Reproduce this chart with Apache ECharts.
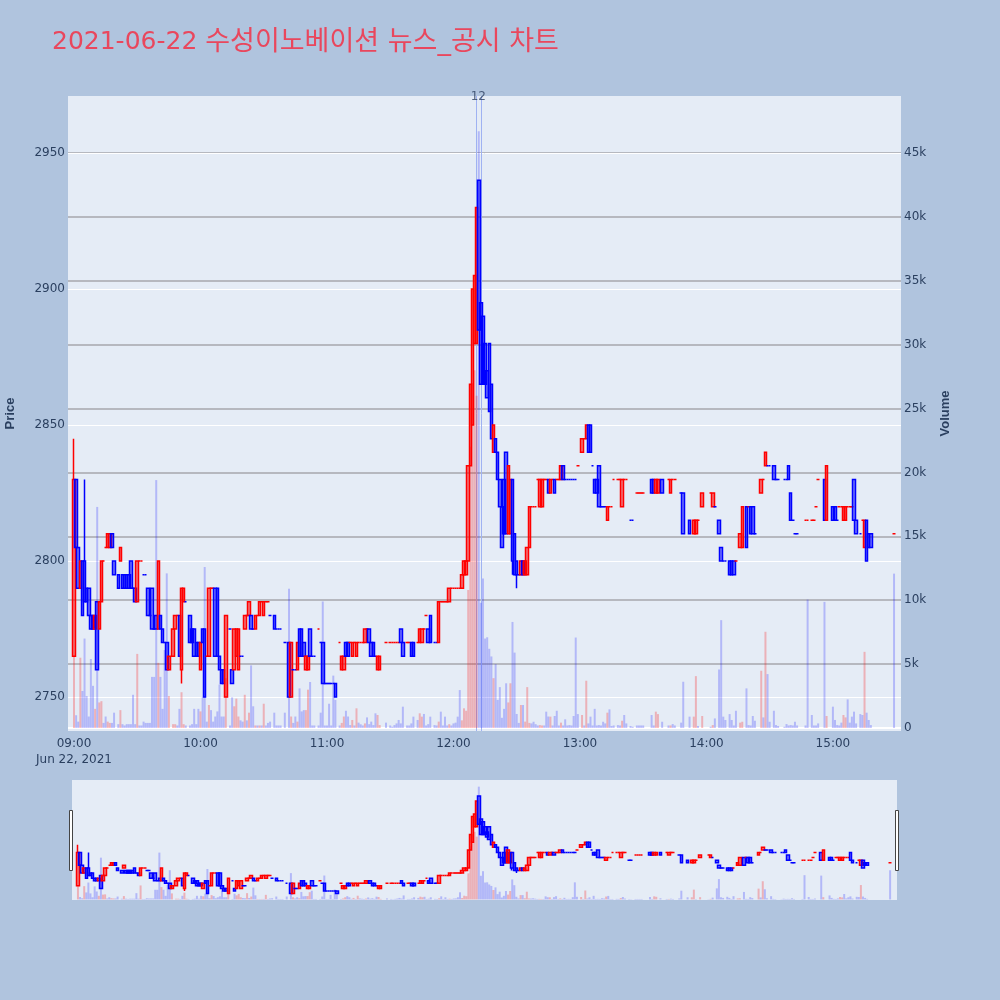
<!DOCTYPE html>
<html><head><meta charset="utf-8">
<script src="https://cdn.jsdelivr.net/npm/echarts@6/dist/echarts.min.js"></script>
<style>html,body{margin:0;padding:0;background:#b0c4de}#chart{width:1000px;height:1000px}</style>
</head><body><div id="chart"></div>
<script>
const titleDate = '2021-06-22';
const titleName = '수성이노베이션 뉴스_공시 차트';
const dateLabel = 'Jun 22, 2021';

const times = [
'09:00','09:01','09:02','09:03','09:04','09:05','09:06','09:07','09:08','09:09',
'09:10','09:11','09:12','09:13','09:14','09:15','09:16','09:17','09:18','09:19',
'09:21','09:22','09:23','09:24','09:25','09:26','09:27','09:28','09:29',
'09:30','09:31','09:32','09:33','09:34','09:35','09:36','09:37','09:38','09:39',
'09:40','09:41','09:42','09:43','09:44','09:45','09:47','09:48','09:49',
'09:50','09:51','09:52','09:53','09:55','09:56','09:57','09:58','09:59',
'10:00','10:01','10:02','10:03','10:04','10:05','10:06','10:07','10:08','10:09',
'10:10','10:11','10:12','10:14','10:15','10:16','10:17','10:18','10:19',
'10:20','10:21','10:22','10:23','10:24','10:25','10:26','10:27','10:28','10:29',
'10:30','10:31','10:32','10:33','10:35','10:36','10:37','10:38',
'10:40','10:42','10:43','10:44','10:45','10:46','10:47','10:48','10:49',
'10:50','10:51','10:52','10:53','10:54','10:56','10:57','10:58','10:59',
'11:00','11:01','11:02','11:03','11:04','11:06','11:07','11:08','11:09',
'11:10','11:11','11:12','11:13','11:14','11:15','11:16','11:17','11:18','11:19',
'11:20','11:21','11:22','11:23','11:24','11:25','11:28',
'11:30','11:31','11:32','11:33','11:34','11:35','11:36','11:38','11:39',
'11:40','11:41','11:43','11:44','11:45','11:46','11:47','11:48','11:49',
'11:51','11:52','11:53','11:54','11:55','11:56','11:57','11:58','11:59',
'12:00','12:01','12:02','12:03','12:04','12:05','12:06','12:07','12:08','12:09',
'12:10','12:11','12:12','12:13','12:14','12:15','12:16','12:17','12:18','12:19',
'12:20','12:21','12:22','12:23','12:24','12:25','12:26','12:27','12:28','12:29',
'12:30','12:31','12:32','12:33','12:34','12:35','12:36','12:37','12:38','12:39',
'12:40','12:41','12:42','12:43','12:44','12:45','12:46','12:47','12:48','12:49',
'12:50','12:51','12:52','12:53','12:54','12:55','12:56','12:57','12:58','12:59',
'13:01','13:02','13:03','13:04','13:05','13:06','13:07','13:08','13:09',
'13:10','13:11','13:12','13:13','13:14','13:15','13:16','13:18','13:19',
'13:20','13:21','13:22','13:24','13:25','13:27','13:28','13:29',
'13:30','13:34','13:35','13:36','13:37','13:39',
'13:42','13:43','13:44','13:45','13:48','13:49',
'13:52','13:54','13:55','13:56','13:58',
'14:02','14:03','14:04','14:06','14:07','14:08','14:09',
'14:11','14:12','14:13','14:14','14:16','14:17','14:19',
'14:20','14:21','14:22','14:23','14:26','14:27','14:28','14:29',
'14:30','14:32','14:33','14:34','14:37','14:38','14:39',
'14:40','14:41','14:42','14:43','14:47','14:48',
'14:50','14:51','14:52','14:53','14:56','14:57',
'15:00','15:01','15:02','15:03','15:04','15:05','15:06','15:07','15:08','15:09',
'15:10','15:11','15:13','15:14','15:15','15:16','15:17','15:18','15:29'
];

const opens = [
2765,2830,2805,2790,2800,2800,2790,2790,2780,2780,
2775,2785,2775,2785,2800,2805,2805,2805,2810,2800,
2795,2800,2795,2795,2795,2795,2800,2790,2790,
2785,2800,2800,2795,2795,2790,2780,2790,2775,2780,
2775,2780,2775,2770,2770,2760,2765,2775,2780,
2780,2760,2785,2785,2780,2775,2775,2770,2770,
2760,2775,2775,2765,2765,2790,2790,2790,2790,2765,
2760,2760,2750,2775,2760,2760,2765,2760,2765,
2765,2775,2780,2780,2780,2775,2775,2780,2780,2785,
2780,2785,2785,2780,2780,2775,2775,2775,
2770,2770,2750,2760,2760,2760,2775,2775,2770,
2760,2760,2775,2765,2765,2775,2770,2770,2755,
2755,2755,2755,2755,2755,2770,2760,2760,2770,
2770,2770,2765,2770,2765,2770,2770,2770,2770,2775,
2775,2770,2770,2765,2760,2760,2770,
2770,2770,2770,2770,2770,2775,2770,2770,2770,
2770,2770,2770,2770,2770,2775,2780,2775,2780,
2770,2770,2770,2785,2785,2785,2785,2785,2790,
2790,2790,2790,2790,2790,2795,2795,2800,2835,2850,
2880,2880,2940,2895,2890,2880,2870,2880,2865,2840,
2845,2840,2830,2820,2830,2840,2810,2810,2830,2810,
2800,2795,2795,2800,2795,2795,2805,2820,2820,2820,
2830,2820,2820,2830,2830,2830,2825,2830,2830,2830,
2830,2830,2835,2830,2830,2830,2830,2830,2830,2835,
2840,2845,2845,2850,2850,2835,2830,2830,2835,
2820,2820,2820,2815,2820,2820,2830,2830,2830,
2820,2830,2830,2815,2815,2825,2825,2825,
2825,2830,2830,2825,2825,2830,
2830,2825,2830,2830,2825,2825,
2815,2810,2810,2815,2820,
2825,2820,2820,2815,2805,2800,2800,
2800,2800,2800,2800,2805,2805,2820,
2820,2820,2820,2810,2825,2830,2835,2835,
2835,2835,2830,2830,2830,2830,2835,
2825,2815,2810,2810,2815,2815,
2815,2815,2820,2830,2830,2815,
2820,2820,2815,2820,2820,2815,2815,2820,2820,2820,
2830,2815,2810,2815,2805,2815,2810,2810,2810
];

const closes = [
2830,2805,2790,2800,2780,2785,2785,2780,2775,2775,
2780,2760,2785,2800,2800,2805,2810,2810,2805,2795,
2790,2805,2790,2790,2790,2790,2790,2790,2785,
2800,2800,2800,2795,2795,2780,2780,2775,2775,2775,
2800,2775,2770,2770,2760,2765,2775,2780,2780,
2765,2790,2790,2785,2770,2770,2765,2765,2765,
2770,2770,2750,2765,2790,2790,2790,2765,2765,2760,
2755,2755,2780,2775,2755,2775,2775,2775,2765,
2765,2780,2780,2785,2775,2775,2780,2780,2785,2785,
2785,2785,2785,2780,2775,2775,2775,2775,
2770,2750,2770,2760,2760,2770,2765,2765,2765,
2765,2765,2765,2765,2765,2775,2770,2755,2755,
2755,2755,2755,2755,2750,2770,2765,2765,2765,
2765,2770,2770,2770,2770,2770,2770,2770,2775,2775,
2770,2765,2765,2765,2765,2765,2770,
2770,2770,2770,2770,2770,2770,2765,2770,2770,
2765,2765,2770,2775,2775,2775,2780,2770,2770,
2770,2770,2785,2785,2785,2785,2785,2790,2790,
2790,2790,2790,2790,2795,2800,2800,2835,2865,2900,
2905,2930,2885,2865,2865,2865,2860,2855,2845,2850,
2840,2830,2820,2805,2810,2810,2835,2830,2800,2795,
2795,2795,2800,2795,2800,2805,2820,2820,2820,2820,
2830,2830,2830,2830,2830,2825,2830,2830,2825,2830,
2830,2835,2830,2830,2830,2830,2830,2830,2830,2835,
2845,2845,2850,2840,2840,2835,2825,2825,2820,
2820,2820,2820,2820,2820,2820,2830,2830,2830,
2830,2830,2830,2815,2815,2825,2825,2825,
2825,2825,2825,2830,2830,2825,
2830,2830,2830,2830,2825,2810,
2810,2815,2815,2815,2825,
2825,2825,2820,2810,2800,2800,2800,
2795,2795,2795,2800,2810,2820,2805,
2820,2810,2810,2810,2830,2830,2840,2835,
2835,2830,2830,2830,2830,2830,2830,
2815,2815,2810,2810,2815,2815,
2815,2815,2820,2830,2815,2835,
2815,2815,2815,2820,2820,2820,2820,2820,2820,2820,
2815,2810,2810,2815,2815,2800,2805,2805,2810
];

const lows = [
2765,2805,2790,2790,2780,2785,2785,2780,2775,2775,
2775,2760,2775,2785,2800,2805,2805,2805,2805,2795,
2790,2800,2790,2790,2790,2790,2790,2790,2785,
2785,2800,2800,2795,2795,2780,2780,2775,2775,2775,
2775,2775,2770,2770,2760,2760,2765,2775,2780,
2765,2755,2785,2785,2770,2770,2765,2765,2765,
2760,2770,2750,2765,2765,2790,2790,2765,2765,2760,
2755,2755,2750,2775,2755,2760,2765,2760,2765,
2765,2775,2780,2780,2775,2775,2775,2780,2780,2785,
2780,2785,2785,2780,2775,2775,2775,2775,
2770,2750,2750,2760,2760,2760,2765,2765,2765,
2760,2760,2765,2765,2765,2775,2770,2755,2755,
2755,2755,2755,2755,2750,2770,2760,2760,2765,
2765,2770,2765,2770,2765,2770,2770,2770,2770,2775,
2770,2765,2765,2765,2760,2760,2770,
2770,2770,2770,2770,2770,2770,2765,2770,2770,
2765,2765,2770,2770,2770,2775,2780,2770,2770,
2770,2770,2770,2785,2785,2785,2785,2785,2790,
2790,2790,2790,2790,2790,2795,2795,2800,2835,2850,
2880,2880,2885,2865,2865,2865,2860,2855,2845,2840,
2840,2830,2820,2805,2810,2810,2810,2810,2795,2795,
2790,2795,2795,2795,2795,2795,2805,2820,2820,2820,
2830,2820,2820,2830,2830,2825,2825,2830,2825,2830,
2830,2830,2830,2830,2830,2830,2830,2830,2830,2835,
2840,2845,2845,2840,2840,2835,2825,2825,2820,
2820,2820,2820,2815,2820,2820,2830,2830,2830,
2820,2830,2830,2815,2815,2825,2825,2825,
2825,2825,2825,2825,2825,2825,
2830,2825,2830,2830,2825,2810,
2810,2810,2810,2815,2820,
2825,2820,2820,2810,2800,2800,2800,
2795,2795,2795,2800,2805,2805,2805,
2820,2810,2810,2810,2825,2830,2835,2835,
2835,2830,2830,2830,2830,2830,2830,
2815,2815,2810,2810,2815,2815,
2815,2815,2820,2830,2815,2815,
2815,2815,2815,2820,2820,2815,2815,2820,2820,2820,
2815,2810,2810,2815,2805,2800,2805,2805,2810
];

const highs = [
2845,2830,2805,2800,2800,2830,2790,2790,2780,2780,
2780,2785,2785,2800,2800,2805,2810,2810,2810,2800,
2795,2805,2795,2795,2795,2795,2800,2790,2790,
2800,2800,2800,2795,2795,2790,2780,2790,2775,2780,
2800,2780,2775,2770,2770,2765,2775,2780,2780,
2780,2790,2790,2785,2780,2775,2775,2770,2770,
2770,2775,2775,2765,2790,2790,2790,2790,2790,2765,
2760,2760,2780,2775,2760,2775,2775,2775,2765,
2765,2780,2780,2785,2780,2775,2780,2780,2785,2785,
2785,2785,2785,2780,2780,2775,2775,2775,
2770,2770,2770,2760,2760,2770,2775,2775,2770,
2765,2765,2775,2765,2765,2775,2770,2770,2755,
2755,2755,2755,2755,2755,2770,2765,2765,2770,
2770,2770,2770,2770,2770,2770,2770,2770,2775,2775,
2775,2770,2770,2765,2765,2765,2770,
2770,2770,2770,2770,2770,2775,2770,2770,2770,
2770,2770,2770,2775,2775,2775,2780,2775,2780,
2770,2770,2785,2785,2785,2785,2785,2790,2790,
2790,2790,2790,2790,2795,2800,2800,2835,2865,2900,
2905,2930,2940,2895,2890,2880,2870,2880,2865,2850,
2845,2840,2830,2820,2830,2840,2835,2830,2830,2810,
2800,2795,2800,2800,2800,2805,2820,2820,2820,2820,
2830,2830,2830,2830,2830,2830,2830,2830,2830,2830,
2830,2835,2835,2830,2830,2830,2830,2830,2830,2835,
2845,2845,2850,2850,2850,2835,2830,2830,2835,
2820,2820,2820,2820,2820,2820,2830,2830,2830,
2830,2830,2830,2815,2815,2825,2825,2825,
2825,2830,2830,2830,2830,2830,
2830,2830,2830,2830,2825,2825,
2815,2815,2815,2815,2825,
2825,2825,2820,2815,2805,2800,2800,
2800,2800,2800,2800,2810,2820,2820,
2820,2820,2820,2810,2830,2830,2840,2835,
2835,2835,2830,2830,2830,2830,2835,
2825,2815,2810,2810,2815,2815,
2815,2815,2820,2830,2830,2835,
2820,2820,2815,2820,2820,2820,2820,2820,2820,2820,
2830,2815,2810,2815,2815,2815,2810,2810,2810
];

const volumes = [
5600,1000,500,5500,2900,7000,2500,900,5400,3300,
1500,17300,2000,2100,400,900,500,400,400,1200,
300,1400,300,200,300,300,300,2600,300,
5800,200,200,500,400,400,400,4000,4000,19400,
5100,4000,1500,6100,12100,2500,300,300,200,
1500,2800,300,200,200,300,1500,300,1500,
1300,2400,12600,500,1800,1400,500,900,1300,3400,
900,900,3900,200,2400,1700,2300,900,600,
500,2600,600,1200,4900,1700,200,200,200,200,
1900,200,400,500,1200,200,200,200,
1200,10900,900,400,900,500,3100,1300,1400,
1400,3000,3600,200,200,200,1200,9900,200,
200,1900,200,4100,2200,200,400,900,1350,
900,230,630,200,1540,420,290,200,360,830,
300,500,230,1150,1020,230,420,
200,100,230,360,630,360,1670,200,200,
360,890,630,1150,890,1100,200,300,890,
230,200,500,1280,200,890,200,300,200,
360,420,890,2970,600,1540,1350,10800,22000,27000,
28000,26000,46700,9800,11700,7000,7100,6200,5600,3900,
5000,2200,3200,800,1500,3500,2000,3500,8300,5900,
1100,400,1800,1800,500,3200,400,360,490,300,
200,230,200,200,1280,900,890,200,940,1350,
200,420,200,680,200,230,200,940,7080,1090,
1020,200,3700,360,890,200,1500,200,230,
200,490,360,1200,1460,160,200,230,200,
570,1020,360,160,100,200,200,200,
200,1020,200,1280,1090,490,
200,200,310,200,420,3620,
890,890,4060,160,940,
100,230,750,4580,8440,890,630,
1090,630,200,1350,420,490,3100,
230,200,940,570,4480,830,7530,4220,
490,1350,230,160,100,310,200,
230,200,490,200,200,10050,
1020,200,200,360,9870,940,
1670,630,230,200,420,1020,830,2240,420,890,
1280,360,1090,1020,5960,1200,630,230,12080
];

const hourTicks = ['09:00','10:00','11:00','12:00','13:00','14:00','15:00'];
const priceTicks = [2750, 2800, 2850, 2900, 2950];
const volumeTicks = [0, 5000, 10000, 15000, 20000, 25000, 30000, 35000, 40000, 45000];
const xRange = ['08:57:09', '15:32:18'];
const priceRange = [2737.5, 2971];
const volumeRange = [-234, 49453];
const newsWindow = ['12:10:36', '12:13:00'];
const newsLabel = '12';

function toMin(s) { const p = s.split(':').map(Number); return p[0] * 60 + p[1] + (p[2] || 0) / 60; }
function pad(n) { return (n < 10 ? '0' : '') + n; }

if ([opens, closes, lows, highs, volumes].some(a => a.length !== times.length)) console.error('length mismatch');

const RED = '#ff0000', BLUE = '#0000ff';
let prevClose = null, prevUp = true;
const upFlags = times.map((t, i) => {
  const o = opens[i], c = closes[i];
  let up;
  if (c > o) up = true;
  else if (c < o) up = false;
  else up = (prevClose !== null && c !== prevClose) ? c > prevClose : prevUp;
  prevClose = c; prevUp = up;
  return up;
});
function candleStyle(up) {
  const line = up ? RED : BLUE;
  const fill = up ? 'rgba(255,0,0,0.5)' : 'rgba(0,0,255,0.5)';
  return { color: fill, color0: fill, borderColor: line, borderColor0: line, borderColorDoji: line };
}
const candleData = times.map((t, i) => ({
  value: [toMin(t), opens[i], closes[i], lows[i], highs[i]],
  itemStyle: candleStyle(upFlags[i])
}));
const volumeData = times.map((t, i) => ({
  value: [toMin(t), volumes[i]],
  itemStyle: { color: closes[i] > opens[i] ? 'rgba(255,0,0,0.25)' : 'rgba(0,0,255,0.22)' }
}));

const axisColor = '#2a3f5f';
const axisFont = 'DejaVu Sans, Verdana, sans-serif';
const xMin = toMin(xRange[0]), xMax = toMin(xRange[1]);
const newsA = toMin(newsWindow[0]), newsB = toMin(newsWindow[1]);

const chart = echarts.init(document.getElementById('chart'), null, { renderer: 'canvas' });
chart.setOption({
  backgroundColor: '#b0c4de',
  animation: false,
  title: {
    text: '{a|' + titleDate + '} {b|' + titleName + '}', left: 47, top: 24,
    textStyle: {
      color: '#e9475d', fontSize: 25, fontWeight: 'normal', fontFamily: 'DejaVu Sans, Noto Sans CJK KR, sans-serif',
      rich: {
        a: { color: '#e9475d', fontSize: 25, fontFamily: 'DejaVu Sans, sans-serif' },
        b: { color: '#e9475d', fontSize: 27, fontFamily: 'DejaVu Sans, Noto Sans CJK KR, sans-serif' }
      }
    }
  },
  grid: [
    { left: 68, right: 99, top: 96, bottom: 269, show: true, backgroundColor: '#e5ecf6', borderWidth: 0, containLabel: false, outerBoundsMode: 'none' },
    { left: 72, right: 103, top: 780, bottom: 100, show: true, backgroundColor: '#e5ecf6', borderWidth: 0, containLabel: false, outerBoundsMode: 'none' }
  ],
  xAxis: [
    {
      type: 'value', gridIndex: 0, min: xMin, max: xMax,
      axisLine: { show: false }, axisTick: { show: false }, splitLine: { show: false },
      axisLabel: {
        customValues: hourTicks.map(toMin),
        formatter: v => { const h = Math.floor(v / 60), m = Math.round(v % 60); return pad(h) + ':' + pad(m) + (v === toMin(hourTicks[0]) ? '\n' + dateLabel : ''); },
        color: axisColor, fontSize: 12, fontFamily: axisFont, margin: 5, lineHeight: 16
      }
    },
    { type: 'value', gridIndex: 1, min: xMin, max: xMax, show: false, splitLine: { show: false } }
  ],
  yAxis: [
    {
      type: 'value', gridIndex: 0, position: 'left', min: priceRange[0], max: priceRange[1],
      axisLine: { show: false }, axisTick: { show: false }, splitLine: { show: false },
      axisLabel: { customValues: priceTicks, formatter: v => String(v), color: axisColor, fontSize: 12, fontFamily: axisFont, margin: 3 },
      name: 'Price', nameLocation: 'middle', nameGap: 51,
      nameTextStyle: { color: axisColor, fontSize: 13, fontWeight: 'bold', fontFamily: 'Liberation Sans, Arial, sans-serif' }
    },
    {
      type: 'value', gridIndex: 0, position: 'right', min: volumeRange[0], max: volumeRange[1],
      axisLine: { show: false }, axisTick: { show: false }, splitLine: { show: false },
      axisLabel: { customValues: volumeTicks, formatter: v => v === 0 ? '0' : (v / 1000) + 'k', color: axisColor, fontSize: 12, fontFamily: axisFont, margin: 3 },
      name: 'Volume', nameLocation: 'middle', nameGap: 38,
      nameTextStyle: { color: axisColor, fontSize: 13, fontWeight: 'bold', fontFamily: 'Liberation Sans, Arial, sans-serif' }
    },
    { type: 'value', gridIndex: 1, min: priceRange[0], max: priceRange[1], show: false, splitLine: { show: false } },
    { type: 'value', gridIndex: 1, position: 'right', min: volumeRange[0], max: volumeRange[1], show: false, splitLine: { show: false } }
  ],
  series: [
    {
      name: 'Volume', type: 'bar', xAxisIndex: 0, yAxisIndex: 1, barWidth: 2, data: volumeData, z: 2,
      markLine: {
        silent: true, symbol: ['none', 'none'], z: 1, animation: false, label: { show: false },
        data: volumeTicks.map(v => ({ yAxis: v, lineStyle: v === 0 ? { color: '#ffffff', width: 2, type: 'solid' } : { color: '#a6a7ad', width: 1.5, type: 'solid' } }))
      }
    },
    {
      name: 'Price', type: 'candlestick', xAxisIndex: 0, yAxisIndex: 0, barWidth: 3, data: candleData, z: 3,
      itemStyle: { borderWidth: 1.5 },
      markLine: {
        silent: true, symbol: ['none', 'none'], z: 1, animation: false, label: { show: false },
        data: priceTicks.map(v => ({ yAxis: v, lineStyle: { color: '#ffffff', width: 1, type: 'solid' } })).concat([
          { xAxis: newsA, lineStyle: { color: '#9fb2f2', width: 1, type: 'solid' } },
          { xAxis: newsB, lineStyle: { color: '#9fb2f2', width: 1, type: 'solid' } }
        ])
      }
    },
    { name: 'VolumeMini', type: 'bar', xAxisIndex: 1, yAxisIndex: 3, barWidth: 2, data: volumeData, z: 2 },
    { name: 'PriceMini', type: 'candlestick', xAxisIndex: 1, yAxisIndex: 2, barWidth: 3, data: candleData, z: 3, itemStyle: { borderWidth: 1.5 } },
    {
      name: 'News', type: 'scatter', xAxisIndex: 0, yAxisIndex: 0, symbolSize: 0, silent: true, z: 10,
      data: [[(newsA + newsB) / 2, priceRange[1]]],
      label: { show: true, position: 'inside', formatter: newsLabel, color: axisColor, fontSize: 12, fontFamily: axisFont, offset: [0, 1] },
      clip: false
    }
  ],
  graphic: [
    { type: 'rect', shape: { x: 69.5, y: 810.5, width: 3, height: 60 }, style: { fill: '#ffffff', stroke: '#444444', lineWidth: 1 }, z: 10 },
    { type: 'rect', shape: { x: 895.5, y: 810.5, width: 3, height: 60 }, style: { fill: '#ffffff', stroke: '#444444', lineWidth: 1 }, z: 10 }
  ]
});
</script>
</body></html>
